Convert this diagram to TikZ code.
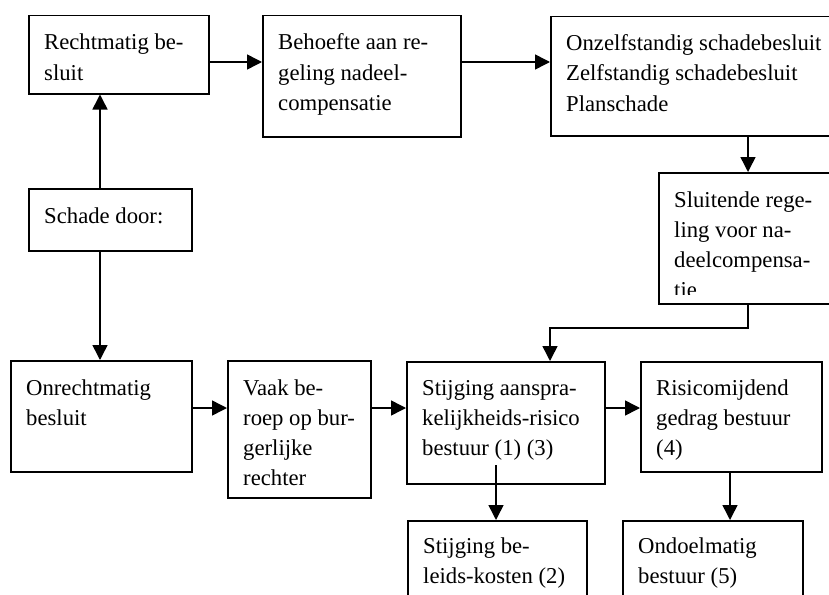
\documentclass[tikz,border=0pt]{standalone}
\usepackage{fontspec}
\setmainfont{Liberation Serif}
\usetikzlibrary{arrows.meta}
\newcommand\boxtext[2]{\parbox[t]{#1pt}{\raggedright #2}}
\tikzset{
  box/.style={draw, line width=1.5pt, anchor=north west, inner sep=0pt},
  txt/.style={anchor=base west, inner sep=0pt, xshift=16pt, yshift=-35pt,
    font=\fontsize{22.7}{30}\selectfont},
  arr/.style={line width=1.5pt, -{Triangle[length=15pt,width=15pt]}},
}
\begin{document}
\begin{tikzpicture}[x=1pt,y=-1pt]
\useasboundingbox (0,0) rectangle (829,594);
\clip (0,0) rectangle (829,594);
% boxes
\node[box, minimum width=180, minimum height=78]  (rechtm)  at (28,15) {};
\node[box, minimum width=198, minimum height=121] (behoefte) at (262,15) {};
\node[box, minimum width=320, minimum height=119] (onzelf)  at (550,16) {};
\node[box, minimum width=163, minimum height=62]  (schade)  at (28,188) {};
\node[box, minimum width=220, minimum height=131] (sluit)   at (658,172) {};
\node[box, minimum width=181, minimum height=111] (onrecht) at (10,360) {};
\node[box, minimum width=143, minimum height=137] (vaak)    at (227,360) {};
\node[box, minimum width=198, minimum height=122] (stijg)   at (406,361) {};
\node[box, minimum width=181, minimum height=110] (risico)  at (640,361) {};
\node[box, minimum width=179, minimum height=110] (beleid)  at (407,520) {};
\node[box, minimum width=180, minimum height=110] (ondoel)  at (622,520) {};
% texts
\node[txt] (rechtm-t)   at (rechtm.north west)   {\boxtext{160}{Rechtmatig be-\\sluit}};
\node[txt] (behoefte-t) at (behoefte.north west) {\boxtext{175}{Behoefte aan re-\\geling nadeel-\\compensatie}};
\node[txt] (onzelf-t)   at (onzelf.north west)   {\boxtext{262}{Onzelfstandig schadebesluit\\Zelfstandig schadebesluit\\Planschade}};
\node[txt] (schade-t)   at (schade.north west)   {\boxtext{140}{Schade door:}};
\begin{scope}
\clip (650,170) rectangle (829,294.5);
\node[txt] (sluit-t)    at (sluit.north west)    {\boxtext{150}{Sluitende rege-\\ling voor na-\\deelcompensa-\\tie}};
\end{scope}
\node[txt] (onrecht-t)  at (onrecht.north west)  {\boxtext{160}{Onrechtmatig\\besluit}};
\node[txt] (vaak-t)     at (vaak.north west)     {\boxtext{125}{Vaak be-\\roep op bur-\\gerlijke\\rechter}};
\node[txt, yshift=1pt] (stijg-t) at (stijg.north west) {\boxtext{180}{Stijging aanspra-\\kelijkheids-risico\\bestuur (1) (3)}};
\node[txt, yshift=1pt] (risico-t) at (risico.north west) {\boxtext{160}{Risicomijdend\\gedrag bestuur\\(4)}};
\node[txt, yshift=2pt] (beleid-t) at (beleid.north west) {\boxtext{160}{Stijging be-\\leids-kosten (2)}};
\node[txt, yshift=2pt] (ondoel-t) at (ondoel.north west) {\boxtext{160}{Ondoelmatig\\bestuur (5)}};
% helper coordinates
\coordinate (xa) at (100,0);
\coordinate (ya) at (0,62);
\coordinate (yb) at (0,408);
\coordinate (k1) at (748,328);
\coordinate (k2) at (550,328);
\coordinate (s1) at (496,465);
\coordinate (xr) at (730,0);
% connectors
\draw[arr] (schade.north -| xa) -- (rechtm.south -| xa);
\draw[arr] (schade.south -| xa) -- (onrecht.north -| xa);
\draw[arr] (rechtm.east |- ya) -- (behoefte.west |- ya);
\draw[arr] (behoefte.east |- ya) -- (onzelf.west |- ya);
\draw[arr] (onzelf.south -| k1) -- (sluit.north -| k1);
\draw[arr] (sluit.south -| k1) -- (k1) -- (k2) -- (stijg.north -| k2);
\draw[arr] (onrecht.east |- yb) -- (vaak.west |- yb);
\draw[arr] (vaak.east |- yb) -- (stijg.west |- yb);
\draw[arr] (stijg.east |- yb) -- (risico.west |- yb);
\draw[arr] (s1) -- (beleid.north -| s1);
\draw[arr] (risico.south -| xr) -- (ondoel.north -| xr);
\end{tikzpicture}
\end{document}
